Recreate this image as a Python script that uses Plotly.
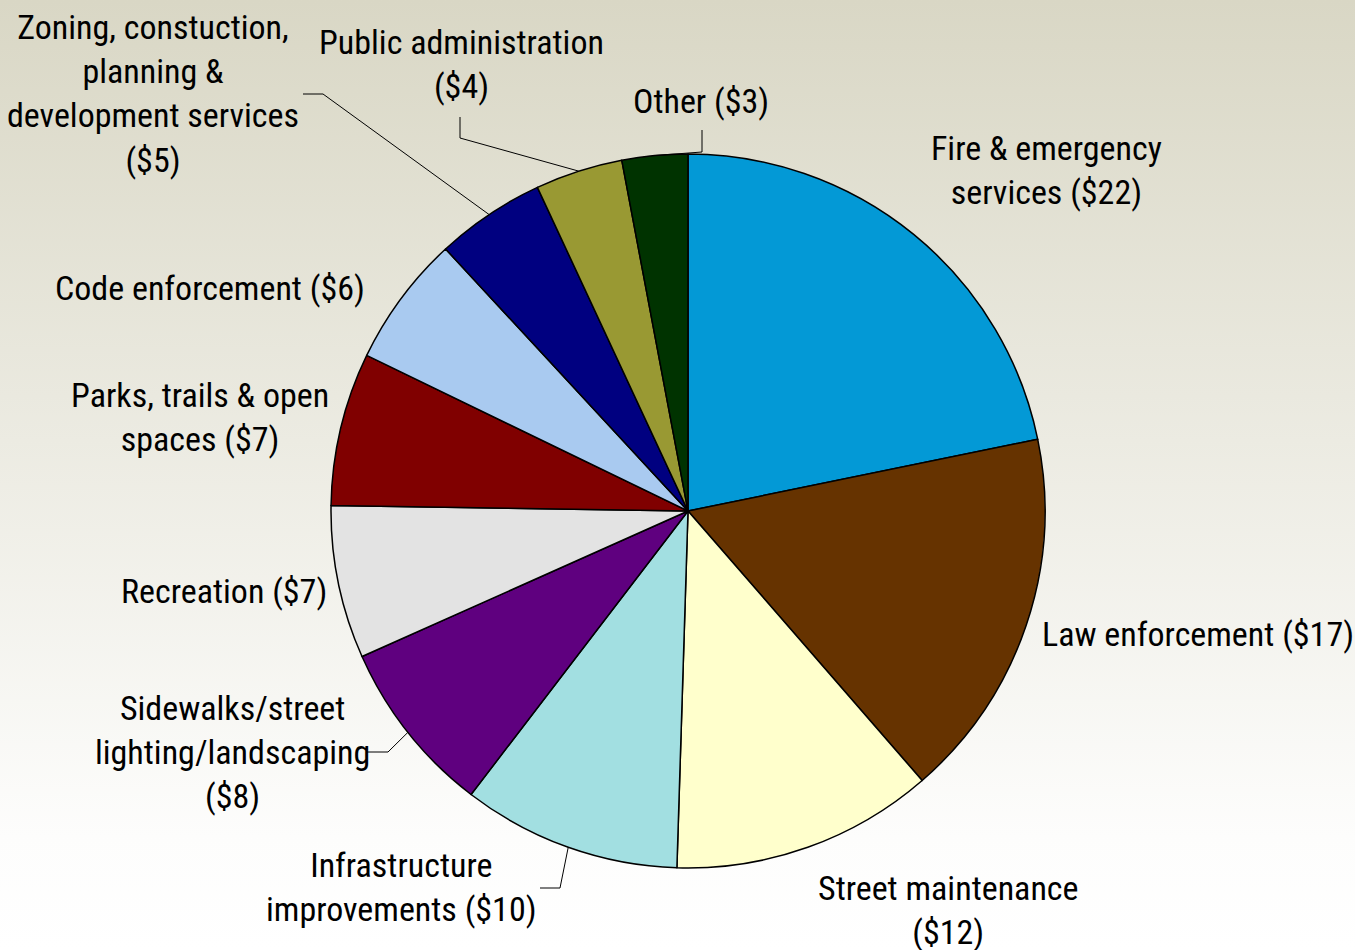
import math
import plotly.graph_objects as go

W, H = 1355, 950

categories = ["Fire & emergency<br>services", "Law enforcement", "Street maintenance<br>",
              "Infrastructure<br>improvements", "Sidewalks/street<br>lighting/landscaping<br>",
              "Recreation", "Parks, trails & open<br>spaces", "Code enforcement",
              "Zoning, constuction,<br>planning &<br>development services<br>",
              "Public administration<br>", "Other"]
values = [22, 17, 12, 10, 8, 7, 7, 6, 5, 4, 3]
colors = ["#0399D6", "#663300", "#FFFFCC", "#A2DFE1", "#5F007F", "#E3E3E3",
          "#800000", "#A9CAF0", "#000080", "#999933", "#003300"]

# label centres in pixels (layout only)
label_pos = [(1046, 170), (1198, 634), (948, 910), (402, 887), (232, 752),
             (224, 591), (200, 417), (210, 288), (153, 93), (461, 64), (701, 101)]
# leader lines: slice index -> elbow and end points in pixels
leaders = {
    3: [(560, 888), (540, 888)],
    4: [(388, 752), (367, 752)],
    8: [(323, 94), (303, 94)],
    9: [(460, 138), (460, 117)],
    10: [(702, 152), (702, 130)],
}

CX, CY, R = 688, 511, 357
FONT = "Roboto Condensed, Liberation Sans Narrow, sans-serif"


def px(x, y):
    return x / W, 1 - y / H


fig = go.Figure()

# background gradient
fig.add_trace(go.Scatter(x=[0, 1, 1, 0, 0], y=[0, 0, 1, 1, 0], mode="lines",
                         fill="toself", line=dict(width=0), hoverinfo="skip",
                         fillgradient=dict(type="vertical",
                                           colorscale=[[0, "#FFFFFF"], [0.12, "#FDFDFC"],
                                                       [1, "#D9D7C5"]]),
                         showlegend=False))

fig.add_trace(go.Pie(labels=categories, values=values, sort=False,
                     direction="clockwise", rotation=0, textinfo="none",
                     marker=dict(colors=colors, line=dict(color="black", width=1.5)),
                     domain=dict(x=[(CX - R) / W, (CX + R) / W],
                                 y=[1 - (CY + R) / H, 1 - (CY - R) / H]),
                     showlegend=False, hoverinfo="label+value"))

total = sum(values)
cum = 0
shapes = []
annotations = []
for i, (name, v) in enumerate(zip(categories, values)):
    mid = (cum + v / 2) / total * 2 * math.pi
    cum += v
    lx, ly = label_pos[i]
    ax, ay = px(lx, ly)
    annotations.append(dict(x=ax, y=ay, xref="paper", yref="paper",
                            text=f"{name} (${v})".replace("<br> (", "<br>("),
                            showarrow=False, xanchor="center", yanchor="middle",
                            font=dict(family=FONT, size=34, color="black")))
    if i in leaders:
        ex, ey = CX + R * math.sin(mid), CY - R * math.cos(mid)
        pts = [(ex, ey)] + leaders[i]
        path = "M " + " L ".join(f"{px(x, y)[0]},{px(x, y)[1]}" for x, y in pts)
        shapes.append(dict(type="path", path=path, xref="paper", yref="paper",
                           line=dict(color="black", width=1), layer="above"))

fig.update_layout(width=W, height=H, margin=dict(l=0, r=0, t=0, b=0),
                  paper_bgcolor="white", plot_bgcolor="rgba(0,0,0,0)",
                  xaxis=dict(range=[0, 1], visible=False, fixedrange=True),
                  yaxis=dict(range=[0, 1], visible=False, fixedrange=True),
                  shapes=shapes, annotations=annotations)

fig.write_html("out.html", config=dict(displayModeBar=False),
               post_script="document.body.style.margin='0';")
